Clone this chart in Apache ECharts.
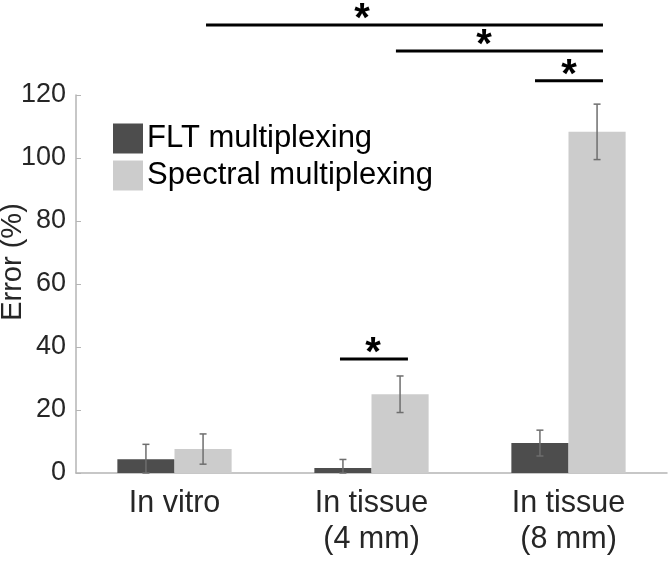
<!DOCTYPE html>
<html>
<head>
<meta charset="utf-8">
<script src="https://cdn.jsdelivr.net/npm/echarts@6/dist/echarts.min.js"></script>
<style>
html,body{margin:0;padding:0;background:#fff;}
#chart{width:668px;height:562px;}
</style>
</head>
<body>
<div id="chart"></div>
<script>
const categories = ['In vitro', 'In tissue\n(4 mm)', 'In tissue\n(8 mm)'];
const seriesNames = ['FLT multiplexing', 'Spectral multiplexing'];
const fltValues = [4.4, 1.6, 9.5];
const fltErr = [4.7, 2.7, 4.1];
const specValues = [7.6, 25.0, 108.3];
const specErr = [4.8, 5.8, 8.8];
const yMin = 0, yMax = 120, yStep = 20;
// significance brackets: [from (category units), to (category units), height (%), star position (category units)]
const sigBrackets = [
  [0.16, 2.175, 142.2, 0.952],
  [1.124, 2.175, 134.0, 1.571],
  [1.83, 2.175, 124.5, 2.003],
  [0.84, 1.185, 36.2, 1.008]
];

const FONT = "'Liberation Sans', Arial, Helvetica, sans-serif";
const darkColor = '#4d4d4d';
const lightColor = '#cccccc';
const BAR_FRAC = 0.29;

function errData(vals, errs) {
  return vals.map((v, i) => [i, v, errs[i]]);
}

function makeErrRender(side) {
  return function (params, api) {
    const i = api.value(0);
    const v = api.value(1);
    const e = api.value(2);
    const band = api.size([1, 0])[0];
    const c = api.coord([i, v]);
    const x = c[0] + side * band * BAR_FRAC / 2;
    const hi = api.coord([i, v + e])[1];
    const lo = api.coord([i, Math.max(0, v - e)])[1];
    const cap = 3.5;
    const style = { stroke: '#6e6e6e', lineWidth: 1.5 };
    return {
      type: 'group',
      children: [
        { type: 'line', shape: { x1: x, y1: hi, x2: x, y2: lo }, style: style },
        { type: 'line', shape: { x1: x - cap, y1: hi, x2: x + cap, y2: hi }, style: style },
        { type: 'line', shape: { x1: x - cap, y1: lo, x2: x + cap, y2: lo }, style: style }
      ]
    };
  };
}

function sigRender(params, api) {
  const from = api.value(0);
  const to = api.value(1);
  const h = api.value(2);
  const s = api.value(3);
  const band = api.size([1, 0])[0];
  const p0 = api.coord([0, h]);
  const x1 = p0[0] + from * band;
  const x2 = p0[0] + to * band;
  const xs = p0[0] + s * band;
  const y = p0[1];
  return {
    type: 'group',
    children: [
      { type: 'line', shape: { x1: x1, y1: y, x2: x2, y2: y }, style: { stroke: '#000', lineWidth: 3 } },
      { type: 'text', x: xs, y: y + 15, style: { text: '*', fill: '#000', font: 'bold 40px ' + FONT, align: 'center', verticalAlign: 'bottom' } }
    ]
  };
}

const chart = echarts.init(document.getElementById('chart'), null, { renderer: 'canvas' });
chart.setOption({
  animation: false,
  backgroundColor: '#fff',
  grid: { left: 76, right: 1, top: 95, bottom: 89, containLabel: false },
  legend: {
    orient: 'vertical',
    left: 108,
    top: 118,
    itemWidth: 30,
    itemHeight: 30,
    itemGap: 6,
    icon: 'rect',
    padding: 5,
    data: seriesNames,
    textStyle: { fontFamily: FONT, fontSize: 31, color: '#000', padding: [0, 0, 0, -1] }
  },
  xAxis: {
    type: 'category',
    data: categories,
    axisLine: { lineStyle: { color: '#b5b5b5', width: 1.5 } },
    axisTick: { show: false },
    axisLabel: { fontFamily: FONT, fontSize: 30.5, color: '#262626', margin: 13, lineHeight: 36 }
  },
  yAxis: {
    type: 'value',
    min: yMin,
    max: yMax,
    interval: yStep,
    splitLine: { show: false },
    axisLine: { show: true, lineStyle: { color: '#b5b5b5', width: 1.5 } },
    axisTick: { show: true, inside: true, length: 5, lineStyle: { color: '#b5b5b5' } },
    axisLabel: { fontFamily: FONT, fontSize: 27, color: '#262626', margin: 10 }
  },
  graphic: [{
    type: 'text',
    x: 13,
    y: 262,
    rotation: Math.PI / 2,
    style: { text: 'Error (%)', font: '29px ' + FONT, fill: '#262626', align: 'center', verticalAlign: 'middle' }
  }],
  series: [
    { name: seriesNames[0], type: 'bar', data: fltValues, barWidth: (BAR_FRAC * 100) + '%', barGap: '0%', itemStyle: { color: darkColor } },
    { name: seriesNames[1], type: 'bar', data: specValues, barWidth: (BAR_FRAC * 100) + '%', barGap: '0%', itemStyle: { color: lightColor } },
    { type: 'custom', renderItem: makeErrRender(-1), data: errData(fltValues, fltErr), z: 5, silent: true, encode: { x: 0, y: 1 } },
    { type: 'custom', renderItem: makeErrRender(1), data: errData(specValues, specErr), z: 5, silent: true, encode: { x: 0, y: 1 } },
    { type: 'custom', renderItem: sigRender, data: sigBrackets, clip: false, z: 6, silent: true, encode: { x: 3, y: 2 } }
  ]
});
</script>
</body>
</html>
